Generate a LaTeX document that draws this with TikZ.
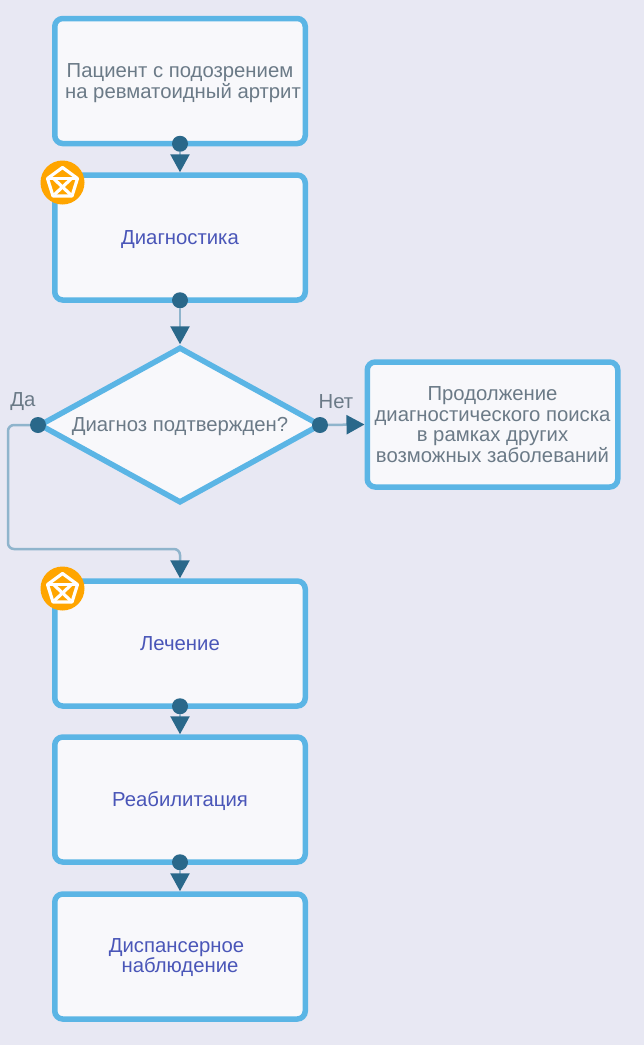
\documentclass[tikz,border=0pt]{standalone}
\usepackage{fontspec}
\setmainfont{Liberation Sans}
\usetikzlibrary{arrows.meta,shapes.geometric}
\definecolor{bgColor}{RGB}{232,232,243}
\definecolor{boxColor}{RGB}{248,248,251}
\definecolor{edgeColor}{RGB}{91,181,229}
\definecolor{lineColor}{RGB}{143,180,204}
\definecolor{tipColor}{RGB}{42,104,138}
\definecolor{greyText}{RGB}{107,122,135}
\definecolor{linkText}{RGB}{74,86,184}
\definecolor{badgeColor}{RGB}{255,165,0}
\tikzset{
  stepbox/.style={draw=edgeColor,fill=boxColor,line width=5.5pt,rounded corners=8pt,
    minimum width=250.5pt,minimum height=125pt,inner sep=0pt,align=center,
    font=\fontsize{20.3}{20.5}\selectfont},
  plain/.style={stepbox,text=greyText},
  link/.style={stepbox,text=linkText},
  oneline/.style={text height=16pt,text depth=3pt},
  choice/.style={draw=edgeColor,fill=boxColor,line width=5.5pt,shape=diamond,aspect=1.8,
    minimum width=282pt,minimum height=156pt,inner sep=0pt,text=greyText,oneline,
    font=\fontsize{20.3}{20.5}\selectfont},
  port/.style={circle,fill=tipColor,minimum size=16pt,inner sep=0pt},
  lowport/.style={port,yshift=2.5pt},
  flow/.style={draw=lineColor,line width=2.5pt,rounded corners=6pt,
    -{Triangle[width=19pt,length=18pt,color=tipColor]}},
  tag/.style={text=greyText,font=\fontsize{20.3}{20.5}\selectfont},
  badge/.style={circle,fill=badgeColor,minimum size=44pt,inner sep=0pt},
  badgeline/.style={draw=white,line width=3.2pt,line join=round},
}
\newcommand{\badgemark}[1]{%
  \begin{scope}[shift={(#1.center)}]
    \path[badgeline] (0,-15) -- (15,-4) -- (9.5,13.5) -- (-9.5,13.5) -- (-15,-4) -- cycle;
    \path[badgeline] (-14,-4) -- (14,-4);
    \path[badgeline] (-9,-4) -- (8,12);
    \path[badgeline] (9,-4) -- (-8,12);
  \end{scope}
}
\begin{document}
\begin{tikzpicture}[x=1pt,y=-1pt]
\path[use as bounding box,fill=bgColor] (0,0) rectangle (644,1045);

% boxes
\node[plain] (suspect) at (180,81) {\rule{0pt}{18pt}Пациент с подозрением\\\hspace*{6pt}на ревматоидный артрит};
\node[link,oneline] (diagnosis) at (180,237.5) {Диагностика};
\node[choice] (confirmed) at (180,425) {Диагноз подтвержден?};
\node[plain] (search) at (492.5,424.5) {Продолжение\\диагностического поиска\\в рамках других\\возможных заболеваний};
\node[link,oneline] (therapy) at (180,643.5) {Лечение};
\node[link,oneline] (rehab) at (180,799.5) {Реабилитация};
\node[link] (followup) at (180,956.5) {\rule{0pt}{16pt}Диспансерное\hspace*{7pt}\\наблюдение};

% ports
\node[lowport] (suspectout) at (suspect.south) {};
\node[lowport] (diagnosisout) at (diagnosis.south) {};
\node[port] (yesout) at (38,425) {};
\node[port] (noout) at (320,425) {};
\node[lowport] (therapyout) at (therapy.south) {};
\node[lowport] (rehabout) at (rehab.south) {};

% connectors
\coordinate (yesbend) at (8,549);
\draw[flow] (suspectout) -- (diagnosis.north);
\draw[flow] (diagnosisout) -- (confirmed.north);
\draw[flow] (noout) -- (search.west);
\draw[flow] (yesout) -| (yesbend) -| (therapy.north);
\draw[flow] (therapyout) -- (rehab.north);
\draw[flow] (rehabout) -- (followup.north);

% labels
\node[tag] (yeslabel) at (23,402) {Да};
\node[tag] (nolabel) at (336,402) {Нет};

% badges
\node[badge] (diagnosisbadge) at (62.5,182.5) {};
\node[badge] (therapybadge) at (62.5,588.5) {};
\badgemark{diagnosisbadge}
\badgemark{therapybadge}
\end{tikzpicture}
\end{document}
